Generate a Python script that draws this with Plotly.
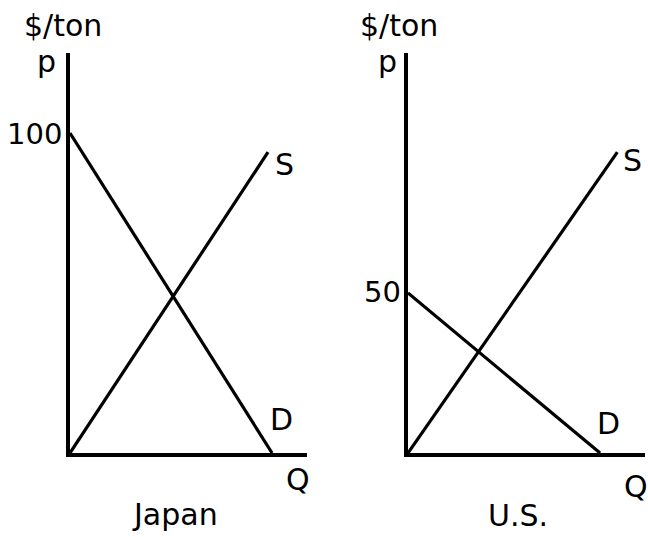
import plotly.graph_objects as go

W, H = 648, 537

# Data (price in $/ton, quantity in arbitrary units)
japan_demand_q = [0, 100]
japan_demand_p = [100, 0]
japan_supply_q = [0, 98]
japan_supply_p = [0, 94]

us_demand_q = [0, 100]
us_demand_p = [50, 0]
us_supply_q = [0, 109]
us_supply_p = [0, 94]

japan_ticks = [100]
us_ticks = [50]

FONT = "DejaVu Sans"
FS = 30
FS_NUM = 29

def px(x):
    return x / W

def py(y):
    return (H - y) / H

fig = go.Figure()
line_style = dict(color="black", width=3.2)
fig.add_trace(go.Scatter(x=japan_demand_q, y=japan_demand_p, mode="lines", line=line_style, xaxis="x", yaxis="y"))
fig.add_trace(go.Scatter(x=japan_supply_q, y=japan_supply_p, mode="lines", line=line_style, xaxis="x", yaxis="y"))
fig.add_trace(go.Scatter(x=us_demand_q, y=us_demand_p, mode="lines", line=line_style, xaxis="x2", yaxis="y2"))
fig.add_trace(go.Scatter(x=us_supply_q, y=us_supply_p, mode="lines", line=line_style, xaxis="x2", yaxis="y2"))

ax_common = dict(showgrid=False, zeroline=False, showline=True, linecolor="black",
                 linewidth=4, ticks="", showticklabels=False, fixedrange=True)

ydom = [py(453), py(53)]
fig.update_layout(
    width=W, height=H,
    margin=dict(l=0, r=0, t=0, b=0),
    paper_bgcolor="white", plot_bgcolor="white",
    showlegend=False,
    xaxis=dict(domain=[px(70), px(307)], range=[0, 117.3], anchor="y", **ax_common),
    yaxis=dict(domain=ydom, range=[0, 125], anchor="x", **ax_common),
    xaxis2=dict(domain=[px(408), px(645)], range=[0, 123.4], anchor="y2", **ax_common),
    yaxis2=dict(domain=ydom, range=[0, 125], anchor="x2", **ax_common),
)

def label(text, x, y, xanchor="center", size=FS):
    fig.add_annotation(text=text, x=px(x), y=py(y), xref="paper", yref="paper",
                       xanchor=xanchor, yanchor="middle", showarrow=False,
                       font=dict(family=FONT, size=size, color="black"))

# Japan panel
label("$/ton", 63, 26)
label("p", 46, 61)
label(str(japan_ticks[0]), 64, 134, xanchor="right", size=FS_NUM)
label("S", 284, 164)
label("D", 281, 419)
label("Q", 298, 480)
label("Japan", 175, 514)

# US panel
label("$/ton", 399, 26)
label("p", 387, 61)
label(str(us_ticks[0]), 403, 292, xanchor="right", size=FS_NUM)
label("S", 632, 160)
label("D", 608, 423)
label("Q", 636, 486)
label("U.S.", 518, 515)

fig.write_html("out.html", config={"displayModeBar": False},
               post_script="document.body.style.margin='0';document.body.style.overflow='hidden';")
